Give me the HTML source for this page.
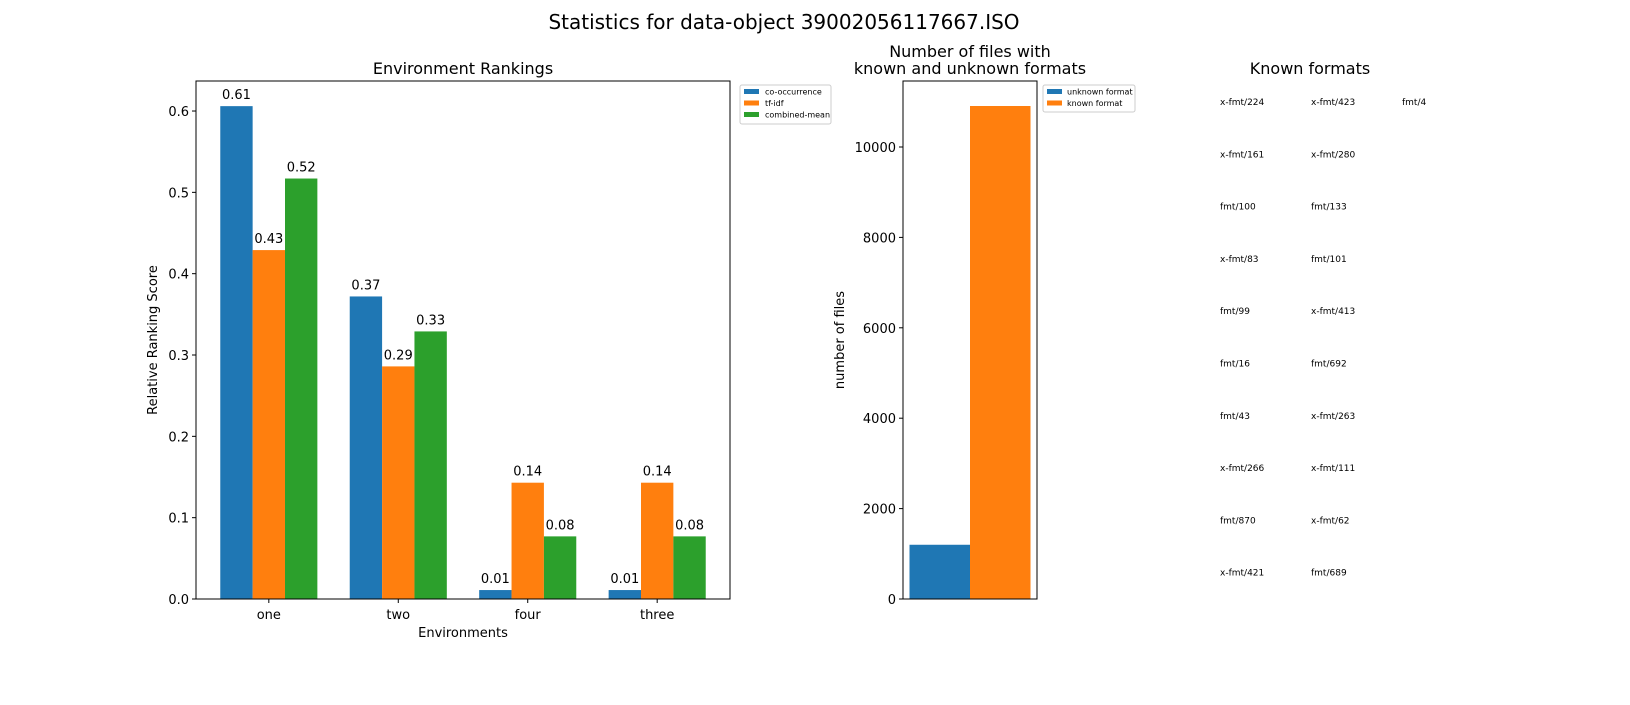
<!DOCTYPE html>
<html><head><meta charset="utf-8"><style>
body{margin:0;background:#fff}
svg{font-family:"DejaVu Sans","Liberation Sans",sans-serif}
</style></head><body>
<svg id="fig" width="1630" height="700" xmlns="http://www.w3.org/2000/svg">
<rect width="1630" height="700" fill="#fff"/>
<text x="784" y="29" font-size="20" text-anchor="middle">Statistics for data-object 39002056117667.ISO</text>
<text x="463" y="74" font-size="16" text-anchor="middle">Environment Rankings</text>
<text x="970" y="57" font-size="16" text-anchor="middle">Number of files with</text>
<text x="970" y="74" font-size="16" text-anchor="middle">known and unknown formats</text>
<text x="1310" y="74" font-size="16" text-anchor="middle">Known formats</text>
<g id="left"></g><g id="right"></g><g id="formats"></g>
</svg>
<script>
const categories=["one","two","four","three"];
const seriesNames=["co-occurrence","tf-idf","combined-mean"];
const coOcc=[0.606,0.372,0.011,0.011];
const tfidf=[0.429,0.286,0.143,0.143];
const combined=[0.517,0.329,0.077,0.077];
const yTicks=[0,0.1,0.2,0.3,0.4,0.5,0.6];
const fileLabels=["unknown format","known format"];
const fileCounts=[1200,10907];
const fileTicks=[0,2000,4000,6000,8000,10000];
const formatCols=[["x-fmt/224","x-fmt/161","fmt/100","x-fmt/83","fmt/99","fmt/16","fmt/43","x-fmt/266","fmt/870","x-fmt/421"],["x-fmt/423","x-fmt/280","fmt/133","fmt/101","x-fmt/413","fmt/692","x-fmt/263","x-fmt/111","x-fmt/62","fmt/689"],["fmt/4"]];
const colors=["#1f77b4","#ff7f0e","#2ca02c"];
const NS="http://www.w3.org/2000/svg";
function mk(p,t,a,txt){const e=document.createElementNS(NS,t);for(const k in a)e.setAttribute(k,a[k]);if(txt!==undefined)e.textContent=txt;p.appendChild(e);return e;}
// left chart
const L=document.getElementById('left');
const ax={x0:196,x1:730,y0:599,y1:81};
const xs=i=>ax.x0+(i+0.5625)/4.125*(ax.x1-ax.x0);
const ys=v=>ax.y0-v/0.1*81.33;
const series=[coOcc,tfidf,combined];
const unit=(ax.x1-ax.x0)/4.125;
series.forEach((s,si)=>s.forEach((v,i)=>{
 const cx=xs(i)+(si-1)*0.25*unit, w=0.25*unit;
 const r=mk(L,'rect',{x:cx-w/2,y:ys(v),width:w,height:ys(0)-ys(v),fill:colors[si]});
 
 
 const t=mk(L,'text',{x:cx,y:ys(v)-7,'font-size':13,'text-anchor':'middle'},v.toFixed(2));
 
 
}));
mk(L,'rect',{x:ax.x0,y:ax.y1,width:ax.x1-ax.x0,height:ax.y0-ax.y1,fill:'none',stroke:'#000','stroke-width':1,});
yTicks.forEach(v=>{mk(L,'line',{x1:ax.x0-4,x2:ax.x0,y1:ys(v),y2:ys(v),stroke:'#000'});
 const t=mk(L,'text',{x:ax.x0-7,y:ys(v)+5,'font-size':13,'text-anchor':'end'},v.toFixed(1));
 });
categories.forEach((c,i)=>{mk(L,'line',{x1:xs(i),x2:xs(i),y1:ax.y0,y2:ax.y0+4,stroke:'#000'});
 const t=mk(L,'text',{x:xs(i),y:ax.y0+20,'font-size':13,'text-anchor':'middle'},c);
 });
mk(L,'text',{x:463,y:637,'font-size':13,'text-anchor':'middle',},'Environments');
mk(L,'text',{x:157,y:340,'font-size':13,'text-anchor':'middle',transform:'rotate(-90 157 340)',},'Relative Ranking Score');
const lg=mk(L,'g',{});
mk(lg,'rect',{x:740,y:85,width:91,height:39,fill:'#fff',stroke:'#ccc',rx:2});
seriesNames.forEach((n,i)=>{mk(lg,'rect',{x:744,y:89+i*11.5,width:15,height:5,fill:colors[i]});
 const t=mk(lg,'text',{x:765,y:94.5+i*11.5,'font-size':8},n);
 });
// right chart
const R=document.getElementById('right');
const bx={x0:903,x1:1037,y0:599,y1:81};
const bys=v=>bx.y0-v/2000*90.4;
const bw=60.5;
fileCounts.forEach((v,i)=>{const x=bx.x0+6.5+i*bw;
 const r=mk(R,'rect',{x:x,y:bys(v),width:bw,height:bys(0)-bys(v),fill:colors[i]});
 
 });
mk(R,'rect',{x:bx.x0,y:bx.y1,width:bx.x1-bx.x0,height:bx.y0-bx.y1,fill:'none',stroke:'#000',});
fileTicks.forEach(v=>{mk(R,'line',{x1:bx.x0-4,x2:bx.x0,y1:bys(v),y2:bys(v),stroke:'#000'});
 const t=mk(R,'text',{x:bx.x0-7,y:bys(v)+5,'font-size':13,'text-anchor':'end'},String(v));
 });
mk(R,'text',{x:844,y:340,'font-size':13,'text-anchor':'middle',transform:'rotate(-90 844 340)',},'number of files');
const lg2=mk(R,'g',{});
mk(lg2,'rect',{x:1043,y:85,width:92,height:27,fill:'#fff',stroke:'#ccc',rx:2});
fileLabels.forEach((n,i)=>{mk(lg2,'rect',{x:1047,y:89+i*11.5,width:15,height:5,fill:colors[i]});
 const t=mk(lg2,'text',{x:1067,y:94.5+i*11.5,'font-size':8},n);
 });
// formats
const F=document.getElementById('formats');
formatCols.forEach((col,ci)=>col.forEach((f,ri)=>{
 const t=mk(F,'text',{x:1220+ci*91,y:105+ri*52.3,'font-size':9},f);
 }));
</script>
</body></html>
